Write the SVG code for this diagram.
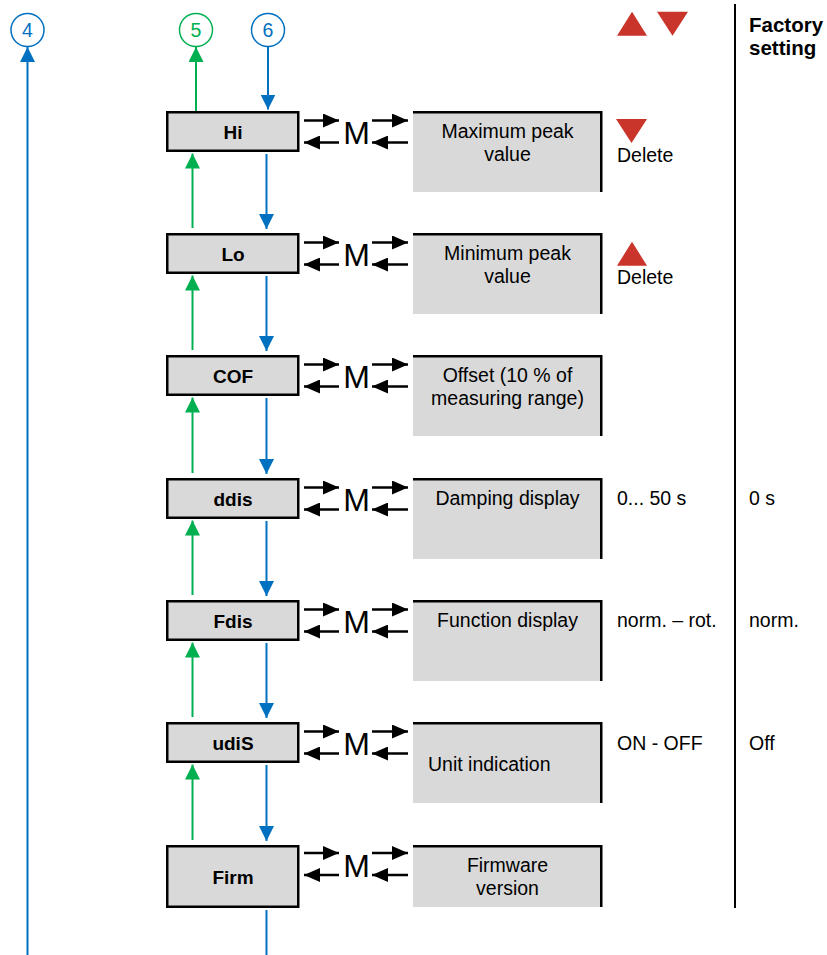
<svg xmlns="http://www.w3.org/2000/svg" width="827" height="955" viewBox="0 0 827 955">
<style>
  text { font-family: "Liberation Sans", Arial, sans-serif; fill: #000; }
  .lbl { font-size: 19px; font-weight: bold; text-anchor: middle; }
  .txt { font-size: 19.5px; }
  .ctr { text-anchor: middle; }
  .m { font-size: 32px; text-anchor: middle; }
  .box { fill: #d9d9d9; stroke: #000; stroke-width: 2.5; }
  .pbox { fill: #d9d9d9; }
  .pedge { fill: none; stroke: #000; stroke-width: 2.5; }
  .blue { stroke: #0070c0; stroke-width: 2; fill: none; }
  .green { stroke: #00b050; stroke-width: 2; fill: none; }
  .blk { stroke: #000; stroke-width: 2.5; fill: none; marker-end: url(#ak); }
  .ab { marker-end: url(#ab); }
  .ag { marker-end: url(#ag); }
  .tri { fill: #c9342b; }
  .circ { fill: #fff; stroke-width: 1.5; }
  .hdr { font-size: 20.5px; font-weight: bold; }
</style>
<defs>
  <marker id="ab" markerUnits="userSpaceOnUse" viewBox="0 0 15 15" markerWidth="15" markerHeight="15" refX="15" refY="7.5" orient="auto">
    <path d="M0,0 L15,7.5 L0,15 z" fill="#0070c0"/>
  </marker>
  <marker id="ag" markerUnits="userSpaceOnUse" viewBox="0 0 15 15" markerWidth="15" markerHeight="15" refX="15" refY="7.5" orient="auto">
    <path d="M0,0 L15,7.5 L0,15 z" fill="#00b050"/>
  </marker>
  <marker id="ak" markerUnits="userSpaceOnUse" viewBox="0 0 16 14" markerWidth="16" markerHeight="14" refX="16" refY="7" orient="auto">
    <path d="M0,0 L16,7 L0,14 z" fill="#000"/>
  </marker>
</defs>

<!-- Header -->
<g id="header">
  <polygon class="tri" points="617,35.7 647,35.7 632,11.7"/>
  <polygon class="tri" points="657,11.7 688,11.7 672.5,35.7"/>
  <text class="hdr" x="749" y="32">Factory</text>
  <text class="hdr" x="749" y="55">setting</text>
  <line x1="735" y1="4" x2="735" y2="908" stroke="#000" stroke-width="2"/>
</g>

<!-- Connector circles -->
<g id="node-4">
  <circle class="circ" cx="27.5" cy="30" r="16.5" stroke="#0070c0"/>
  <text x="27.5" y="37" class="ctr" style="font-size:19.5px;fill:#0070c0">4</text>
</g>
<g id="node-5">
  <circle class="circ" cx="196" cy="30" r="16.5" stroke="#00b050"/>
  <text x="196" y="37" class="ctr" style="font-size:19.5px;fill:#00b050">5</text>
</g>
<g id="node-6">
  <circle class="circ" cx="268" cy="30" r="16.5" stroke="#0070c0"/>
  <text x="268" y="37" class="ctr" style="font-size:19.5px;fill:#0070c0">6</text>
</g>

<!-- Nodes -->
<g id="node-hi">
  <rect class="box" x="167.25" y="112.25" width="131" height="38.5"/>
  <text class="lbl" x="233" y="138.5">Hi</text>
</g>
<g id="param-hi">
  <rect class="pbox" x="413" y="111" width="189" height="81"/>
  <polyline class="pedge" points="413,112.25 601.25,112.25 601.25,192"/>
  <text class="txt ctr" x="507.5" y="137.5">Maximum peak</text>
  <text class="txt ctr" x="507.5" y="160.5">value</text>
  <polygon class="tri" points="616,119 647,119 631.5,143"/>
  <text class="txt" x="617" y="161.5">Delete</text>
</g>

<g id="node-lo">
  <rect class="box" x="167.25" y="234.25" width="131" height="38.5"/>
  <text class="lbl" x="233" y="260.5">Lo</text>
</g>
<g id="param-lo">
  <rect class="pbox" x="413" y="233" width="189" height="81"/>
  <polyline class="pedge" points="413,234.25 601.25,234.25 601.25,314"/>
  <text class="txt ctr" x="507.5" y="259.5">Minimum peak</text>
  <text class="txt ctr" x="507.5" y="282.5">value</text>
  <polygon class="tri" points="617,265.7 647,265.7 632,241.7"/>
  <text class="txt" x="617" y="283.5">Delete</text>
</g>

<g id="node-cof">
  <rect class="box" x="167.25" y="356.25" width="131" height="38.5"/>
  <text class="lbl" x="233" y="382.5">COF</text>
</g>
<g id="param-cof">
  <rect class="pbox" x="413" y="355" width="189" height="81"/>
  <polyline class="pedge" points="413,356.25 601.25,356.25 601.25,436"/>
  <text class="txt ctr" x="507.5" y="381.5">Offset (10 % of</text>
  <text class="txt ctr" x="507.5" y="404.5">measuring range)</text>
</g>

<g id="node-ddis">
  <rect class="box" x="167.25" y="479.25" width="131" height="38.5"/>
  <text class="lbl" x="233" y="505.5">ddis</text>
</g>
<g id="param-ddis">
  <rect class="pbox" x="413" y="478" width="189" height="81"/>
  <polyline class="pedge" points="413,479.25 601.25,479.25 601.25,559"/>
  <text class="txt ctr" x="507.5" y="504.5">Damping display</text>
  <text class="txt" x="617" y="504.5">0... 50 s</text>
  <text class="txt" x="749" y="504.5">0 s</text>
</g>

<g id="node-fdis">
  <rect class="box" x="167.25" y="601.25" width="131" height="38.5"/>
  <text class="lbl" x="233" y="627.5">Fdis</text>
</g>
<g id="param-fdis">
  <rect class="pbox" x="413" y="600" width="189" height="81"/>
  <polyline class="pedge" points="413,601.25 601.25,601.25 601.25,681"/>
  <text class="txt ctr" x="507.5" y="626.5">Function display</text>
  <text class="txt" x="617" y="626.5">norm. – rot.</text>
  <text class="txt" x="749" y="626.5">norm.</text>
</g>

<g id="node-udis">
  <rect class="box" x="167.25" y="723.25" width="131" height="38.5"/>
  <text class="lbl" x="233" y="749.5">udiS</text>
</g>
<g id="param-udis">
  <rect class="pbox" x="413" y="722" width="189" height="81"/>
  <polyline class="pedge" points="413,723.25 601.25,723.25 601.25,803"/>
  <text class="txt" x="428" y="770.5">Unit indication</text>
  <text class="txt" x="617" y="749.5">ON - OFF</text>
  <text class="txt" x="749" y="749.5">Off</text>
</g>

<g id="node-firm">
  <rect class="box" x="167.25" y="846.25" width="131" height="60.5"/>
  <text class="lbl" x="233" y="883.5">Firm</text>
</g>
<g id="param-firm">
  <rect class="pbox" x="413" y="845" width="189" height="62"/>
  <polyline class="pedge" points="413,846.25 601.25,846.25 601.25,907"/>
  <text class="txt ctr" x="507.5" y="871.5">Firmware</text>
  <text class="txt ctr" x="507.5" y="894.5">version</text>
</g>

<!-- Connectors -->
<g id="connectors">
  <line class="blue ab" x1="27.5" y1="955" x2="27.5" y2="47"/>
  <line class="green ag" x1="196" y1="111" x2="196" y2="47"/>
  <line class="blue ab" x1="268" y1="47" x2="268" y2="109.5"/>

  <line class="green ag" x1="192.5" y1="228" x2="192.5" y2="153.5"/>
  <line class="blue ab" x1="266.5" y1="154" x2="266.5" y2="229"/>
  <line class="green ag" x1="192.5" y1="350" x2="192.5" y2="275.5"/>
  <line class="blue ab" x1="266.5" y1="276" x2="266.5" y2="351"/>
  <line class="green ag" x1="192.5" y1="473" x2="192.5" y2="397.5"/>
  <line class="blue ab" x1="266.5" y1="398" x2="266.5" y2="474"/>
  <line class="green ag" x1="192.5" y1="595" x2="192.5" y2="520.5"/>
  <line class="blue ab" x1="266.5" y1="521" x2="266.5" y2="596"/>
  <line class="green ag" x1="192.5" y1="717" x2="192.5" y2="642.5"/>
  <line class="blue ab" x1="266.5" y1="643" x2="266.5" y2="718"/>
  <line class="green ag" x1="192.5" y1="840" x2="192.5" y2="764.5"/>
  <line class="blue ab" x1="266.5" y1="765" x2="266.5" y2="841"/>
  <line class="blue" x1="266.5" y1="910" x2="266.5" y2="955"/>

  <!-- M arrows -->
  <g id="m-hi">
    <line class="blk" x1="304" y1="120.5" x2="339" y2="120.5"/>
    <line class="blk" x1="339" y1="142.5" x2="304" y2="142.5"/>
    <text class="m" x="356.5" y="144">M</text>
    <line class="blk" x1="372" y1="120.5" x2="408" y2="120.5"/>
    <line class="blk" x1="408" y1="142.5" x2="372" y2="142.5"/>
  </g>
  <g id="m-lo">
    <line class="blk" x1="304" y1="242.5" x2="339" y2="242.5"/>
    <line class="blk" x1="339" y1="264.5" x2="304" y2="264.5"/>
    <text class="m" x="356.5" y="266">M</text>
    <line class="blk" x1="372" y1="242.5" x2="408" y2="242.5"/>
    <line class="blk" x1="408" y1="264.5" x2="372" y2="264.5"/>
  </g>
  <g id="m-cof">
    <line class="blk" x1="304" y1="364.5" x2="339" y2="364.5"/>
    <line class="blk" x1="339" y1="386.5" x2="304" y2="386.5"/>
    <text class="m" x="356.5" y="388">M</text>
    <line class="blk" x1="372" y1="364.5" x2="408" y2="364.5"/>
    <line class="blk" x1="408" y1="386.5" x2="372" y2="386.5"/>
  </g>
  <g id="m-ddis">
    <line class="blk" x1="304" y1="487.5" x2="339" y2="487.5"/>
    <line class="blk" x1="339" y1="509.5" x2="304" y2="509.5"/>
    <text class="m" x="356.5" y="511">M</text>
    <line class="blk" x1="372" y1="487.5" x2="408" y2="487.5"/>
    <line class="blk" x1="408" y1="509.5" x2="372" y2="509.5"/>
  </g>
  <g id="m-fdis">
    <line class="blk" x1="304" y1="609.5" x2="339" y2="609.5"/>
    <line class="blk" x1="339" y1="631.5" x2="304" y2="631.5"/>
    <text class="m" x="356.5" y="633">M</text>
    <line class="blk" x1="372" y1="609.5" x2="408" y2="609.5"/>
    <line class="blk" x1="408" y1="631.5" x2="372" y2="631.5"/>
  </g>
  <g id="m-udis">
    <line class="blk" x1="304" y1="731.5" x2="339" y2="731.5"/>
    <line class="blk" x1="339" y1="753.5" x2="304" y2="753.5"/>
    <text class="m" x="356.5" y="755">M</text>
    <line class="blk" x1="372" y1="731.5" x2="408" y2="731.5"/>
    <line class="blk" x1="408" y1="753.5" x2="372" y2="753.5"/>
  </g>
  <g id="m-firm">
    <line class="blk" x1="304" y1="853" x2="339" y2="853"/>
    <line class="blk" x1="339" y1="875" x2="304" y2="875"/>
    <text class="m" x="356.5" y="876.5">M</text>
    <line class="blk" x1="372" y1="853" x2="408" y2="853"/>
    <line class="blk" x1="408" y1="875" x2="372" y2="875"/>
  </g>
</g>
</svg>
